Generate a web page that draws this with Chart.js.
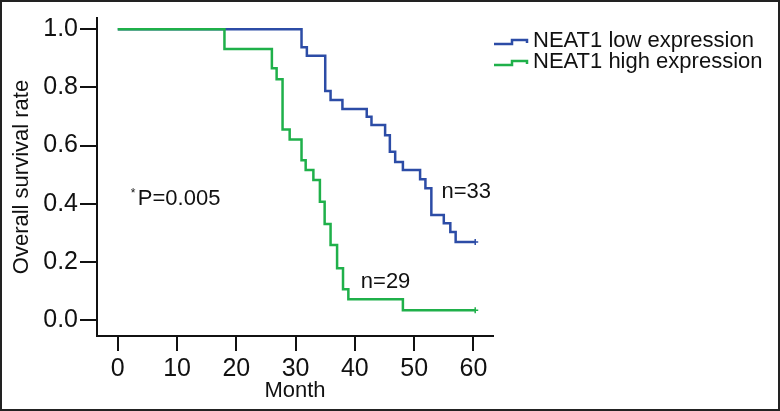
<!DOCTYPE html>
<html><head><meta charset="utf-8">
<script src="https://cdn.jsdelivr.net/npm/chart.js@4"></script>
<style>html,body{margin:0;padding:0;background:#fff;} #wrap{width:780px;height:411px;position:relative;}</style>
</head><body><div id="wrap"><canvas id="c" width="780" height="411"></canvas></div>
<script>
// Kaplan-Meier step data (time in months, survival proportion after the event)
const lowTimes = [0, 31.0, 31.9, 35.0, 35.9, 37.9, 42.0, 42.8, 45.1, 45.9, 46.8, 48.1, 51.0, 51.9, 52.9, 55.0, 56.1, 57.0, 60.3];
const lowSurvival = [1.0, 0.938, 0.909, 0.788, 0.757, 0.726, 0.699, 0.671, 0.636, 0.579, 0.544, 0.516, 0.484, 0.453, 0.361, 0.333, 0.303, 0.268, 0.268];
const highTimes = [0, 18.0, 26.0, 26.8, 27.8, 29.0, 31.0, 31.7, 33.0, 34.1, 34.9, 35.9, 37.0, 38.0, 38.9, 48.1, 60.3];
const highSurvival = [1.0, 0.932, 0.866, 0.828, 0.655, 0.621, 0.550, 0.516, 0.482, 0.407, 0.330, 0.258, 0.178, 0.106, 0.071, 0.034, 0.034];
const xTicks = [0, 10, 20, 30, 40, 50, 60];
const yTicks = [0, 0.2, 0.4, 0.6, 0.8, 1.0];
const seriesLabels = ['NEAT1 low expression', 'NEAT1 high expression'];
const seriesColors = ['#2c4ca6', '#1fb04a'];
const xTitle = 'Month';
const yTitle = 'Overall survival rate';
const notes = [
  {text: 'n=33', x: 54.6, y: 0.442, star: false},
  {text: 'n=29', x: 41.0, y: 0.132, star: false},
  {text: 'P=0.005', x: 3.38, y: 0.416, star: true}
];

const FONT = 'Liberation Sans, Arial, sans-serif';
const toPts = (ts, vs) => ts.map((t, i) => ({x: t, y: vs[i]}));
const lastOnly = (n, r) => ctx => (ctx.dataIndex === n - 1 ? r : 0);

const framePlugin = {
  id: 'frame',
  beforeDraw(chart) {
    const c = chart.ctx;
    c.save(); c.fillStyle = '#fff'; c.fillRect(0, 0, chart.width, chart.height); c.restore();
  },
  afterDraw(chart) {
    const c = chart.ctx;
    const xs = chart.scales.x, ys = chart.scales.y;
    c.save();
    // outer frame
    c.strokeStyle = '#222'; c.lineWidth = 2;
    c.strokeRect(1, 1, chart.width - 2, chart.height - 2);
    // notes
    c.fillStyle = '#111';
    c.textBaseline = 'middle'; c.textAlign = 'left';
    notes.forEach(n => {
      const px = xs.getPixelForValue(n.x), py = ys.getPixelForValue(n.y);
      c.font = '22px ' + FONT;
      c.fillText(n.text, px, py);
      if (n.star) {
        c.font = '12px ' + FONT;
        c.fillText('*', px - 7, py - 5);
      }
    });
    // legend
    const lx = 494, ly = [44, 65];
    chart.data.datasets.forEach((ds, i) => {
      const y = ly[i];
      c.strokeStyle = ds.borderColor; c.lineWidth = 2.5;
      c.beginPath();
      c.moveTo(lx, y); c.lineTo(lx + 18, y); c.lineTo(lx + 18, y - 4);
      c.lineTo(lx + 33, y - 4); c.lineTo(lx + 33, y - 1);
      c.stroke();
      c.fillStyle = '#111'; c.font = '22px ' + FONT; c.textBaseline = 'alphabetic';
      c.fillText(ds.label, 533, y + 3);
    });
    c.restore();
  }
};

new Chart(document.getElementById('c'), {
  type: 'line',
  data: {
    datasets: [
      {label: seriesLabels[0], data: toPts(lowTimes, lowSurvival), borderColor: seriesColors[0], backgroundColor: seriesColors[0],
       borderWidth: 2.5, stepped: true, fill: false, order: 1,
       pointRadius: lastOnly(lowTimes.length, 3), pointStyle: 'cross', pointBorderWidth: 1.5, pointHoverRadius: 0},
      {label: seriesLabels[1], data: toPts(highTimes, highSurvival), borderColor: seriesColors[1], backgroundColor: seriesColors[1],
       borderWidth: 2.5, stepped: true, fill: false, order: 0,
       pointRadius: lastOnly(highTimes.length, 3), pointStyle: 'cross', pointBorderWidth: 1.5, pointHoverRadius: 0}
    ]
  },
  options: {
    responsive: false, animation: false,
    layout: {padding: {left: 0, top: 18, right: 287, bottom: 0}},
    plugins: {legend: {display: false}, tooltip: {enabled: false}},
    scales: {
      x: {
        type: 'linear', min: -3.5, max: 63.3,
        afterBuildTicks: a => { a.ticks = xTicks.map(v => ({value: v})); },
        afterFit: a => { a.height = 75; },
        grid: {display: true, drawOnChartArea: false, drawTicks: true, tickLength: 15, color: '#111', lineWidth: 2},
        border: {display: true, color: '#111', width: 2},
        ticks: {color: '#111', font: {family: FONT, size: 25}, padding: 3, maxRotation: 0, autoSkip: false},
        title: {display: true, text: xTitle, color: '#111', font: {family: FONT, size: 22}, padding: {top: 0, bottom: 7}}
      },
      y: {
        type: 'linear', min: -0.055, max: 1.039,
        afterBuildTicks: a => { a.ticks = yTicks.map(v => ({value: v})); },
        afterFit: a => { a.width = 97; },
        grid: {display: true, drawOnChartArea: false, drawTicks: true, tickLength: 17, color: '#111', lineWidth: 2},
        border: {display: true, color: '#111', width: 2},
        ticks: {color: '#111', font: {family: FONT, size: 25}, padding: 2, callback: v => v.toFixed(1)},
        title: {display: true, text: yTitle, color: '#111', font: {family: FONT, size: 22}, padding: {top: 9, bottom: 0}}
      }
    }
  },
  plugins: [framePlugin]
});
</script></body></html>
